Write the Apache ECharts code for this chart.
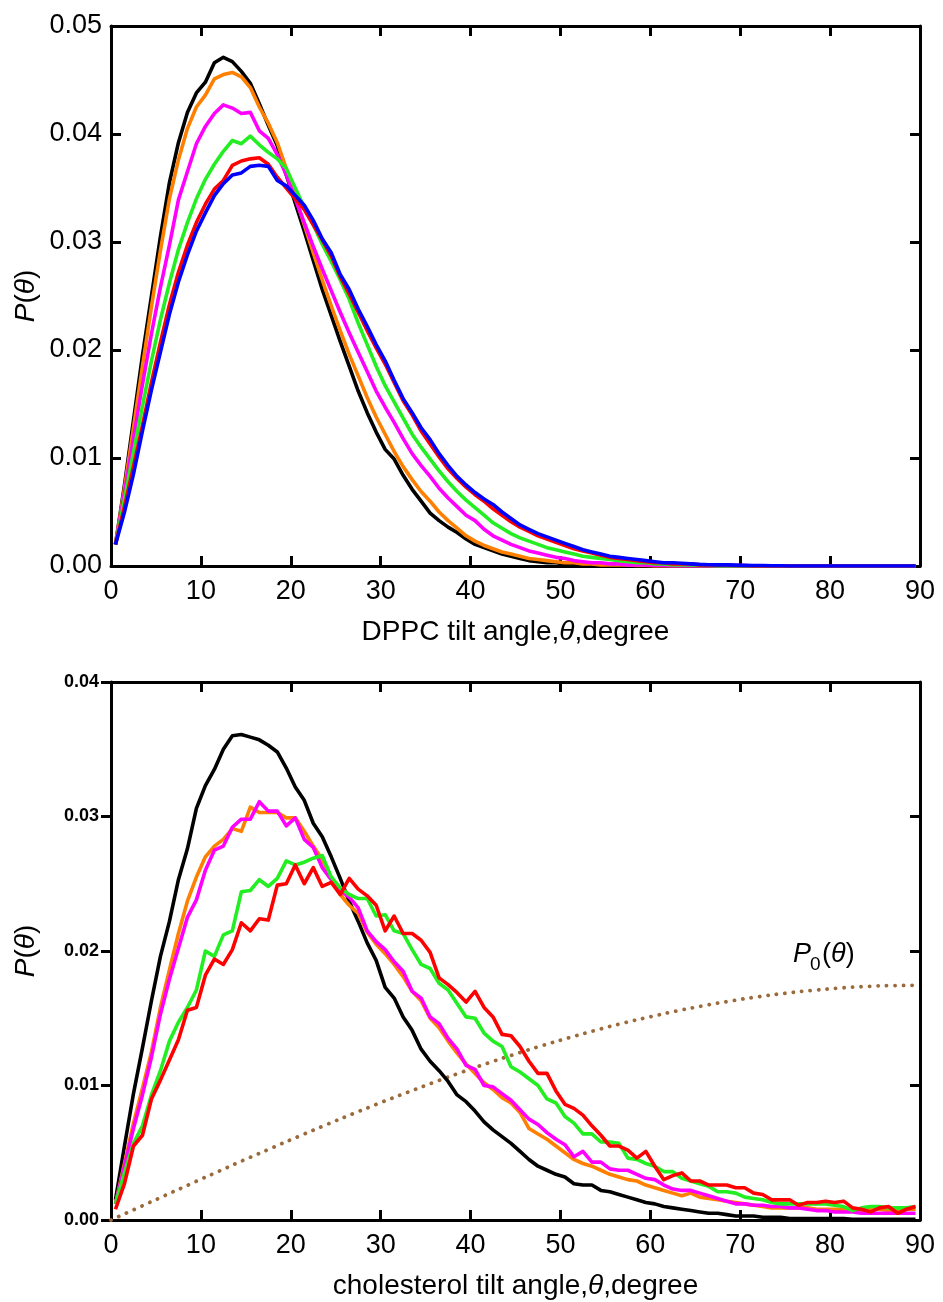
<!DOCTYPE html>
<html>
<head>
<meta charset="utf-8">
<script src="https://cdn.jsdelivr.net/npm/echarts@6/dist/echarts.min.js"></script>
<style>
html,body{margin:0;padding:0;background:#fff;}
#chart{width:943px;height:1302px;}
</style>
</head>
<body>
<div id="chart"></div>
<script>
// bin centres (degrees)
const angles = [0.5,1.5,2.5,3.5,4.5,5.5,6.5,7.5,8.5,9.5,10.5,11.5,12.5,13.5,14.5,15.5,16.5,17.5,18.5,19.5,
20.5,21.5,22.5,23.5,24.5,25.5,26.5,27.5,28.5,29.5,30.5,31.5,32.5,33.5,34.5,35.5,36.5,37.5,38.5,39.5,
40.5,41.5,42.5,43.5,44.5,45.5,46.5,47.5,48.5,49.5,50.5,51.5,52.5,53.5,54.5,55.5,56.5,57.5,58.5,59.5,
60.5,61.5,62.5,63.5,64.5,65.5,66.5,67.5,68.5,69.5,70.5,71.5,72.5,73.5,74.5,75.5,76.5,77.5,78.5,79.5,
80.5,81.5,82.5,83.5,84.5,85.5,86.5,87.5,88.5,89.5];

// ---- Top panel: DPPC tilt angle distributions ----
const dppcBlack = [0.0020,0.0075,0.0135,0.0195,0.0250,0.0305,0.0355,0.0392,0.0420,0.0438,
0.0448,0.0466,0.0471,0.0467,0.0458,0.0447,0.0428,0.0408,0.0389,0.0362,
0.0336,0.0310,0.0283,0.0256,0.0232,0.0208,0.0185,0.0162,0.0142,0.0124,
0.0108,0.0099,0.0084,0.0071,0.0060,0.0049,0.0042,0.0036,0.0031,0.0025,
0.0020,0.0017,0.0014,0.0011,0.0009,0.0007,0.0005,0.0004,0.0003,0.0003,
0.0002,0.0002,0.0001,0.0001,0.0001,0.0001,0.00005,0.00005,0.00005,0.00005,
0,0,0,0,0,0,0,0,0,0,0,0,0,0,0,0,0,0,0,0,0,0,0,0,0,0,0,0,0,0];
const dppcOrange = [0.0020,0.0072,0.0128,0.0185,0.0240,0.0292,0.0340,0.0376,0.0405,0.0425,
0.0436,0.0451,0.0455,0.0457,0.0453,0.0443,0.0425,0.0410,0.0392,0.0368,
0.0342,0.0316,0.0290,0.0265,0.0241,0.0218,0.0196,0.0176,0.0156,0.0138,
0.0122,0.0106,0.0092,0.0080,0.0069,0.0060,0.0050,0.0042,0.0035,0.0028,
0.0023,0.0019,0.0016,0.0013,0.0011,0.0009,0.0007,0.0006,0.0005,0.0004,
0.0003,0.0003,0.0002,0.0002,0.0001,0.0001,0.0001,0.0001,0.00005,0.00005,
0,0,0,0,0,0,0,0,0,0,0,0,0,0,0,0,0,0,0,0,0,0,0,0,0,0,0,0,0,0];
const dppcMagenta = [0.0020,0.0068,0.0118,0.0168,0.0215,0.0258,0.0297,0.0339,0.0365,0.0391,
0.0407,0.0419,0.0427,0.0424,0.0419,0.0420,0.0403,0.0396,0.0381,0.0362,
0.0340,0.0318,0.0296,0.0275,0.0255,0.0235,0.0216,0.0198,0.0180,0.0162,
0.0147,0.0133,0.0118,0.0104,0.0093,0.0083,0.0072,0.0063,0.0055,0.0047,
0.0042,0.0034,0.0028,0.0024,0.0020,0.0017,0.0014,0.0012,0.0010,0.0008,
0.0007,0.0005,0.0004,0.0003,0.0003,0.0002,0.0002,0.0001,0.0001,0.0001,
0.00005,0.00005,0,0,0,0,0,0,0,0,0,0,0,0,0,0,0,0,0,0,0,0,0,0,0,0,0,0,0,0];
const dppcGreen = [0.0020,0.0062,0.0105,0.0148,0.0190,0.0228,0.0262,0.0293,0.0318,0.0340,
0.0358,0.0372,0.0384,0.0394,0.0391,0.0398,0.0390,0.0383,0.0377,0.0368,
0.0350,0.0332,0.0316,0.0298,0.0282,0.0265,0.0247,0.0225,0.0205,0.0185,
0.0167,0.0152,0.0137,0.0122,0.0110,0.0099,0.0088,0.0078,0.0069,0.0061,
0.0054,0.0047,0.0040,0.0035,0.0030,0.0026,0.0023,0.0020,0.0017,0.0015,
0.0013,0.0011,0.0009,0.0008,0.0007,0.0006,0.0005,0.0004,0.0003,0.0003,
0.0002,0.0002,0.0001,0.0001,0.0001,0.00005,0.00005,0,0,0,0,0,0,0,0,0,0,0,0,0,0,0,0,0,0,0,0,0,0,0];
const dppcRed = [0.0020,0.0055,0.0092,0.0130,0.0170,0.0207,0.0242,0.0272,0.0297,0.0318,
0.0335,0.0349,0.0357,0.0371,0.0375,0.0377,0.0378,0.0372,0.0360,0.0350,
0.0340,0.0330,0.0316,0.0302,0.0287,0.0268,0.0252,0.0235,0.0218,0.0202,
0.0187,0.0170,0.0153,0.0140,0.0125,0.0113,0.0101,0.0090,0.0081,0.0073,
0.0066,0.0060,0.0053,0.0047,0.0041,0.0036,0.0032,0.0028,0.0025,0.0022,
0.0019,0.0016,0.0014,0.0012,0.0010,0.0008,0.0007,0.0006,0.0005,0.0004,
0.0003,0.0003,0.0002,0.0002,0.0002,0.0001,0.0001,0.0001,0.0001,0.00005,
0.00005,0,0,0,0,0,0,0,0,0,0,0,0,0,0,0,0,0,0,0];
const dppcBlue = [0.0020,0.0050,0.0085,0.0125,0.0163,0.0198,0.0233,0.0263,0.0288,0.0310,
0.0327,0.0343,0.0354,0.0362,0.0364,0.0370,0.0371,0.0370,0.0357,0.0352,
0.0343,0.0334,0.0320,0.0303,0.0290,0.0270,0.0256,0.0238,0.0222,0.0205,
0.0190,0.0172,0.0155,0.0142,0.0128,0.0117,0.0104,0.0093,0.0083,0.0075,
0.0068,0.0062,0.0057,0.0050,0.0044,0.0038,0.0034,0.0030,0.0027,0.0024,
0.0021,0.0018,0.0015,0.0013,0.0011,0.0009,0.0008,0.0007,0.0006,0.0005,
0.0004,0.0003,0.0003,0.00025,0.0002,0.00015,0.00012,0.0001,0.0001,0.00008,
0.00006,0.00005,0.00004,0.00003,0.00002,0,0,0,0,0,0,0,0,0,0,0,0,0,0,0];

// ---- Bottom panel: cholesterol tilt angle distributions ----
const cholBlack = [0.0015,0.0055,0.0094,0.0128,0.0163,0.0196,0.0222,0.0253,0.0276,0.0306,
0.0323,0.0335,0.0350,0.0360,0.0361,0.0359,0.0357,0.0353,0.0348,0.0336,
0.0322,0.0312,0.0295,0.0285,0.0270,0.0254,0.0237,0.0222,0.0206,0.0193,
0.0173,0.0165,0.0151,0.0141,0.0127,0.0118,0.0111,0.0103,0.0093,0.0088,
0.0081,0.0073,0.0067,0.0062,0.0057,0.0051,0.0045,0.0040,0.0037,0.0034,
0.0032,0.0027,0.0026,0.0026,0.0022,0.0021,0.0019,0.0017,0.0015,0.0013,
0.0012,0.0010,0.0009,0.0008,0.0007,0.0006,0.0005,0.0005,0.0004,0.0003,
0.0003,0.0003,0.0002,0.0002,0.0002,0.0001,0.0001,0.0001,0.0001,0.0001,
0.0001,0.0001,0.00005,0.00005,0.00005,0.00005,0.00005,0.00005,0.00005,0.00005];
const cholOrange = [0.0012,0.0042,0.0072,0.0098,0.0125,0.0158,0.0186,0.0213,0.0237,0.0255,
0.0270,0.0278,0.0283,0.0291,0.0289,0.0307,0.0303,0.0303,0.0303,0.0299,
0.0299,0.0289,0.0278,0.0268,0.0254,0.0242,0.0234,0.0228,0.0214,0.0205,
0.0198,0.0190,0.0181,0.0170,0.0163,0.0150,0.0143,0.0133,0.0124,0.0116,
0.0109,0.0102,0.0097,0.0091,0.0087,0.0080,0.0068,0.0064,0.0060,0.0055,
0.0050,0.0045,0.0042,0.0040,0.0037,0.0034,0.0032,0.0030,0.0029,0.0026,
0.0024,0.0022,0.0020,0.0018,0.0020,0.0017,0.0016,0.0015,0.0014,0.0013,
0.0012,0.0011,0.0010,0.0009,0.0009,0.0009,0.0009,0.0009,0.0008,0.0008,
0.0008,0.0008,0.0008,0.0007,0.0008,0.0008,0.0007,0.0008,0.0008,0.0008];
const cholMagenta = [0.0012,0.0040,0.0068,0.0093,0.0121,0.0153,0.0179,0.0202,0.0225,0.0238,
0.0260,0.0275,0.0278,0.0292,0.0298,0.0298,0.0311,0.0304,0.0304,0.0293,
0.0299,0.0283,0.0277,0.0262,0.0253,0.0245,0.0240,0.0232,0.0215,0.0207,
0.0201,0.0192,0.0185,0.0170,0.0165,0.0151,0.0146,0.0135,0.0127,0.0115,
0.0112,0.0100,0.0099,0.0094,0.0089,0.0082,0.0075,0.0071,0.0065,0.0060,
0.0056,0.0047,0.0051,0.0043,0.0043,0.0038,0.0037,0.0037,0.0034,0.0031,
0.0030,0.0026,0.0023,0.0022,0.0022,0.0020,0.0018,0.0016,0.0014,0.0012,
0.0012,0.0011,0.0011,0.0010,0.0010,0.0009,0.0009,0.0008,0.0007,0.0007,
0.0006,0.0006,0.0006,0.0005,0.0005,0.0005,0.0005,0.0005,0.0005,0.0005];
const cholGreen = [0.0012,0.0035,0.0057,0.0070,0.0093,0.0111,0.0133,0.0147,0.0158,0.0171,
0.0200,0.0196,0.0212,0.0215,0.0244,0.0245,0.0253,0.0248,0.0254,0.0267,
0.0264,0.0266,0.0269,0.0271,0.0255,0.0247,0.0242,0.0239,0.0239,0.0226,
0.0227,0.0215,0.0213,0.0201,0.0190,0.0187,0.0176,0.0171,0.0161,0.0151,
0.0150,0.0139,0.0133,0.0129,0.0114,0.0110,0.0105,0.0100,0.0090,0.0087,
0.0077,0.0072,0.0064,0.0064,0.0058,0.0058,0.0057,0.0046,0.0045,0.0042,
0.0040,0.0036,0.0036,0.0031,0.0029,0.0027,0.0025,0.0021,0.0021,0.0020,
0.0017,0.0016,0.0015,0.0013,0.0012,0.0012,0.0012,0.0012,0.0012,0.0012,
0.0011,0.0010,0.0007,0.0009,0.0010,0.0010,0.0009,0.0009,0.0009,0.0010];
const cholRed = [0.0008,0.0027,0.0055,0.0063,0.0090,0.0104,0.0119,0.0134,0.0156,0.0158,
0.0182,0.0194,0.0190,0.0201,0.0221,0.0215,0.0224,0.0223,0.0249,0.0250,
0.0264,0.0250,0.0262,0.0248,0.0251,0.0242,0.0254,0.0246,0.0241,0.0234,
0.0215,0.0226,0.0213,0.0213,0.0208,0.0199,0.0180,0.0175,0.0169,0.0162,
0.0170,0.0158,0.0151,0.0138,0.0137,0.0129,0.0118,0.0109,0.0109,0.0096,
0.0086,0.0083,0.0078,0.0070,0.0063,0.0055,0.0055,0.0052,0.0046,0.0051,
0.0040,0.0030,0.0033,0.0035,0.0029,0.0029,0.0026,0.0026,0.0026,0.0024,
0.0024,0.0020,0.0019,0.0015,0.0015,0.0015,0.0011,0.0013,0.0013,0.0014,
0.0013,0.0014,0.0009,0.0008,0.0006,0.0009,0.0010,0.0005,0.0008,0.0010];

// isotropic reference distribution P0(theta)
const p0Angles = [0,3,6,9,12,15,18,21,24,27,30,33,36,39,42,45,48,51,54,57,60,63,66,69,72,75,78,81,84,87,90];
const p0Values = [0,0.00091,0.00182,0.00273,0.00363,0.00452,0.00539,0.00625,0.00710,0.00792,
0.00873,0.00950,0.01026,0.01098,0.01168,0.01234,0.01297,0.01356,0.01412,0.01464,
0.01511,0.01555,0.01594,0.01629,0.01660,0.01686,0.01707,0.01724,0.01736,0.01743,0.01745];

const topYTicks = [0, 0.01, 0.02, 0.03, 0.04, 0.05];
const bottomYTicks = [0, 0.01, 0.02, 0.03, 0.04];
const xTicks = [0,10,20,30,40,50,60,70,80,90];

const FONT = 'Liberation Sans, Arial, sans-serif';
const pairs = (xs, ys) => xs.map((x, i) => [x, ys[i]]);

const chart = echarts.init(document.getElementById('chart'), null, {renderer: 'canvas'});

const axisLine = {show: true, onZero: false, lineStyle: {color: '#000', width: 3}};
const tickIn = {show: true, inside: true, length: 10, lineStyle: {color: '#000', width: 3}};
const tickOut = {show: true, inside: false, length: 10, lineStyle: {color: '#000', width: 3}};

function xAx(grid, pos, showLabel, name) {
  return {
    type: 'value', gridIndex: grid, position: pos,
    min: xTicks[0], max: xTicks[xTicks.length - 1], interval: 10,
    axisLine: axisLine, axisTick: tickIn, splitLine: {show: false},
    axisLabel: {show: showLabel, fontSize: 27, color: '#000', fontFamily: FONT, margin: 12},
    name: name || '', nameLocation: 'middle', nameGap: 52,
    nameTextStyle: {fontSize: 28, color: '#000', fontFamily: FONT,
      rich: {i: {fontSize: 28, fontStyle: 'italic', color: '#000', fontFamily: FONT}}}
  };
}
function yAx(grid, pos, ticks, showLabel, tick, labelStyle) {
  return {
    type: 'value', gridIndex: grid, position: pos,
    min: ticks[0], max: ticks[ticks.length - 1], interval: 0.01,
    axisLine: axisLine, axisTick: tick, splitLine: {show: false},
    axisLabel: Object.assign({show: showLabel, color: '#000', fontFamily: FONT,
      formatter: v => v.toFixed(2)}, labelStyle)
  };
}

const lineS = (name, xs, ys, color, xi, yi) => ({
  name: name, type: 'line', xAxisIndex: xi, yAxisIndex: yi,
  data: pairs(xs, ys), showSymbol: false, symbol: 'none',
  lineStyle: {color: color, width: 3.6, join: 'round'}, itemStyle: {color: color},
  emphasis: {disabled: true}, z: 3
});

const option = {
  animation: false,
  backgroundColor: '#fff',
  grid: [
    {left: 111, top: 26, width: 809, height: 540},
    {left: 111, top: 682, width: 809, height: 538}
  ],
  xAxis: [
    xAx(0, 'bottom', true, 'DPPC tilt angle,{i|θ},degree'),
    xAx(0, 'top', false),
    xAx(1, 'bottom', true, 'cholesterol tilt angle,{i|θ},degree'),
    xAx(1, 'top', false)
  ],
  yAxis: [
    yAx(0, 'left', topYTicks, true, tickIn, {fontSize: 27, margin: 9}),
    yAx(0, 'right', topYTicks, false, tickIn, {}),
    yAx(1, 'left', bottomYTicks, true, tickOut, {fontSize: 18, fontWeight: 'bold', margin: 12}),
    yAx(1, 'right', bottomYTicks, false, tickIn, {})
  ],
  series: [
    lineS('DPPC black', angles, dppcBlack, '#000000', 0, 0),
    lineS('DPPC orange', angles, dppcOrange, '#ff8000', 0, 0),
    lineS('DPPC magenta', angles, dppcMagenta, '#ff00ff', 0, 0),
    lineS('DPPC green', angles, dppcGreen, '#22ee22', 0, 0),
    lineS('DPPC red', angles, dppcRed, '#ff0000', 0, 0),
    lineS('DPPC blue', angles, dppcBlue, '#0000ff', 0, 0),
    {
      name: 'P0', type: 'line', xAxisIndex: 2, yAxisIndex: 2,
      data: pairs(p0Angles, p0Values), showSymbol: false, symbol: 'none', smooth: true,
      lineStyle: {color: '#9b6a3b', width: 3.8, type: [0.1, 8.4], cap: 'round'},
      emphasis: {disabled: true}, z: 2
    },
    lineS('chol black', angles, cholBlack, '#000000', 2, 2),
    lineS('chol orange', angles, cholOrange, '#ff8000', 2, 2),
    lineS('chol magenta', angles, cholMagenta, '#ff00ff', 2, 2),
    lineS('chol green', angles, cholGreen, '#22ee22', 2, 2),
    lineS('chol red', angles, cholRed, '#ff0000', 2, 2)
  ],
  graphic: [
    {type: 'text', x: 26, y: 296, rotation: Math.PI / 2,
     style: {text: '{i|P}({i|θ})', fill: '#000', fontSize: 28, fontFamily: FONT,
       align: 'center', verticalAlign: 'middle', textAlign: 'center', textVerticalAlign: 'middle',
       rich: {i: {fontSize: 28, fontStyle: 'italic', fontFamily: FONT, fill: '#000'}}}},
    {type: 'text', x: 26, y: 951, rotation: Math.PI / 2,
     style: {text: '{i|P}({i|θ})', fill: '#000', fontSize: 28, fontFamily: FONT,
       align: 'center', verticalAlign: 'middle', textAlign: 'center', textVerticalAlign: 'middle',
       rich: {i: {fontSize: 28, fontStyle: 'italic', fontFamily: FONT, fill: '#000'}}}},
    {type: 'text', x: 793, y: 968,
     style: {text: 'P', fill: '#000', fontSize: 27, fontStyle: 'italic', fontFamily: FONT,
       align: 'left', verticalAlign: 'bottom', textAlign: 'left', textVerticalAlign: 'bottom'}},
    {type: 'text', x: 810, y: 974,
     style: {text: '0', fill: '#000', fontSize: 19, fontFamily: FONT,
       align: 'left', verticalAlign: 'bottom', textAlign: 'left', textVerticalAlign: 'bottom'}},
    {type: 'text', x: 822, y: 968,
     style: {text: '({i|θ})', fill: '#000', fontSize: 27, fontFamily: FONT,
       align: 'left', verticalAlign: 'bottom', textAlign: 'left', textVerticalAlign: 'bottom',
       rich: {i: {fontSize: 27, fontStyle: 'italic', fontFamily: FONT, fill: '#000'}}}}
  ]
};
chart.setOption(option);
</script>
</body>
</html>
